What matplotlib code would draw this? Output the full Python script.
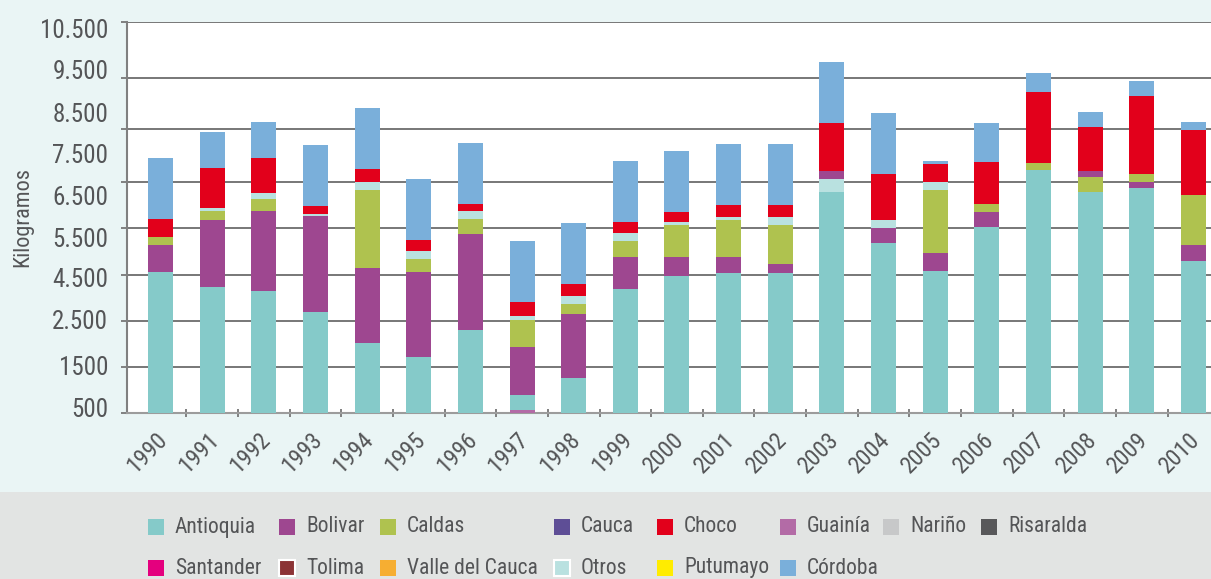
import numpy as np
import matplotlib
matplotlib.use("Agg")
import matplotlib.pyplot as plt
from matplotlib import font_manager as fm
from matplotlib.patches import Rectangle
from matplotlib.transforms import ScaledTranslation

# ---------------- data ----------------
years = [str(y) for y in range(1990, 2011)]

antioquia = [3065, 2739, 2652, 2196, 1522, 1217, 1804, 326, 761, 2696, 2978,
             3043, 3043, 4804, 3696, 3087, 4043, 5283, 4804, 4891, 3304]
bolivar = [587, 1457, 1739, 2087, 1630, 1848, 2087, 1043, 1391, 696, 413,
           348, 196, 174, 326, 391, 326, 0, 130, 130, 348]
caldas = [174, 196, 261, 0, 1696, 283, 326, 587, 217, 348, 696,
          804, 848, 0, 0, 1370, 174, 152, 326, 174, 1087]
otros = [0, 65, 130, 43, 174, 174, 174, 87, 174, 174, 65,
         65, 174, 283, 174, 174, 0, 0, 0, 0, 0]
choco = [391, 870, 761, 174, 283, 239, 152, 304, 261, 239, 217,
         261, 261, 1043, 1000, 391, 913, 1543, 957, 1696, 1413]
cordoba = [1326, 783, 783, 1326, 1326, 1326, 1326, 1326, 1326, 1326, 1326,
           1326, 1326, 1326, 1326, 65, 848, 413, 326, 326, 174]
guainia = [0, 0, 0, 0, 0, 0, 0, 65, 0, 0, 0,
           0, 0, 0, 0, 0, 0, 0, 0, 0, 0]

series_values = {
    "Antioquia": antioquia, "Bolivar": bolivar, "Caldas": caldas,
    "Otros": otros, "Choco": choco, "Córdoba": cordoba, "Guainía": guainia,
}

default_order = ["Antioquia", "Bolivar", "Caldas", "Otros", "Choco", "Córdoba"]
order_exceptions = {
    "1997": ["Guainía", "Antioquia", "Bolivar", "Caldas", "Otros", "Choco", "Córdoba"],
    "2003": ["Antioquia", "Otros", "Bolivar", "Caldas", "Choco", "Córdoba"],
    "2008": ["Antioquia", "Caldas", "Bolivar", "Otros", "Choco", "Córdoba"],
}

legend_row1 = ["Antioquia", "Bolivar", "Caldas", "Cauca", "Choco", "Guainía", "Nariño", "Risaralda"]
legend_row2 = ["Santander", "Tolima", "Valle del Cauca", "Otros", "Putumayo", "Córdoba"]

colors = {
    "Antioquia": "#85CAC9", "Bolivar": "#9E4790", "Caldas": "#AFC24F",
    "Cauca": "#5E4E96", "Choco": "#E2001B", "Guainía": "#B36BA6",
    "Nariño": "#C7C8C9", "Risaralda": "#58585A", "Santander": "#E4007E",
    "Tolima": "#8B3335", "Valle del Cauca": "#F6AE32", "Otros": "#B9E1E0",
    "Putumayo": "#FFEC00", "Córdoba": "#7AAFDA",
}
outlined = {"Tolima", "Otros"}

grid_values = [0, 1000, 2000, 3000, 4020, 5020, 6170, 7280, 8500]
label_values = [130, 1043, 2022, 2935, 3826, 4739, 5652, 6543, 7457, 8348]
label_texts = ["500", "1500", "2.500", "4.500", "5.500", "6.500",
               "7.500", "8.500", "9.500", "10.500"]

# ---------------- fonts ----------------
available = {f.name for f in fm.fontManager.ttflist}
family = "DejaVu Sans"
for cand in ["Liberation Sans Narrow", "DejaVu Sans Condensed", "Roboto Condensed"]:
    if cand in available:
        family = cand
        break
plt.rcParams["font.family"] = [family, "DejaVu Sans"]
TXT = "#545557"

# ---------------- figure ----------------
W, H = 1211, 579
fig = plt.figure(figsize=(W / 100, H / 100), dpi=100)
fig.patch.set_facecolor("#EAF5F5")
fig.add_artist(Rectangle((0, 0), 1, (H - 492) / H, transform=fig.transFigure,
                         facecolor="#E2E4E3", edgecolor="none", zorder=0))

ax = fig.add_axes([127 / W, (H - 413) / H, 1 - 127 / W, 391 / H])
ax.set_facecolor("white")

x = np.arange(len(years))
for i, yr in enumerate(years):
    order = order_exceptions.get(yr, default_order)
    bottom = 0
    for name in order:
        v = series_values[name][i]
        if v > 0:
            ax.bar(x[i], v, bottom=bottom, width=0.484, color=colors[name],
                   edgecolor="none", zorder=3)
            bottom += v

ax.set_xlim(-0.649, 20.34)
ax.set_ylim(0, 8500)

# y gridlines (major ticks) and labels (minor ticks)
ax.set_yticks(grid_values)
ax.set_yticklabels([])
ax.set_yticks(label_values, minor=True)
ax.set_yticklabels(label_texts, minor=True)
ax.yaxis.grid(True, which="major", color="#777777", linewidth=1.4, zorder=1)
ax.set_axisbelow(True)
ax.tick_params(axis="y", which="major", length=4, width=1.4, color="#808080", direction="out")
ax.tick_params(axis="y", which="minor", length=0, pad=13.5, labelsize=18, labelcolor=TXT)

# x ticks: labels at categories, tick marks at boundaries
ax.set_xticks(x)
ax.set_xticklabels(years, rotation=45, ha="right", va="center", rotation_mode="anchor")
ax.tick_params(axis="x", which="major", length=0, pad=17, labelsize=17, labelcolor=TXT)
ax.set_xticks(np.arange(0.5, 20.5, 1), minor=True)
ax.tick_params(axis="x", which="minor", length=6, width=1.4, color="#808080", direction="inout")
offset = ScaledTranslation(3 / 100, 0, fig.dpi_scale_trans)
for lab in ax.get_xticklabels():
    lab.set_transform(lab.get_transform() + offset)

for s in ["top", "right"]:
    ax.spines[s].set_visible(False)
ax.spines["left"].set_color("#808080")
ax.spines["left"].set_linewidth(1.5)
ax.spines["bottom"].set_color("#9C9C9C")
ax.spines["bottom"].set_linewidth(1.5)

fig.text(23 / W, 1 - 217 / H, "Kilogramos", rotation=90, ha="center", va="center",
         fontsize=16, color=TXT)

# ---------------- legend (manual grid) ----------------
col_x = [148, 279, 380, 554, 657, 780, 883, 981]
row_y = [527, 568]
msz = 16
for r, row in enumerate([legend_row1, legend_row2]):
    for c, name in enumerate(row):
        mx, my = col_x[c], row_y[r]
        fig.add_artist(Rectangle((mx / W, 1 - (my + msz / 2) / H), msz / W, msz / H,
                                 transform=fig.transFigure, facecolor=colors[name],
                                 edgecolor="white" if name in outlined else "none",
                                 linewidth=1.5, zorder=2))
        fig.text((mx + 27) / W, 1 - my / H, name, ha="left", va="center",
                 fontsize=15.5, color=TXT)

fig.savefig("out.png", dpi=100, facecolor=fig.get_facecolor())
